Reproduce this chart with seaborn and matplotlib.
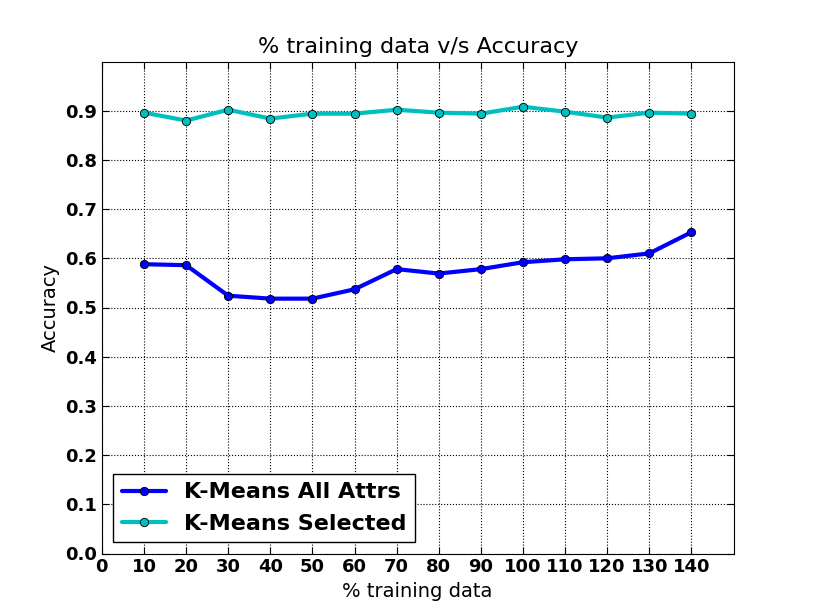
import matplotlib
matplotlib.use("Agg")
import pandas as pd
import seaborn as sns
import matplotlib.pyplot as plt

# ==============================
# Data
# ==============================
train_pct = [10, 20, 30, 40, 50, 60, 70, 80, 90, 100, 110, 120, 130, 140]
acc_all = [0.588, 0.586, 0.524, 0.518, 0.518, 0.537, 0.578, 0.569, 0.578,
           0.592, 0.598, 0.600, 0.610, 0.653]
acc_selected = [0.896, 0.880, 0.902, 0.884, 0.894, 0.894, 0.902, 0.896, 0.894,
                0.908, 0.898, 0.886, 0.896, 0.894]

df = pd.DataFrame({"pct": train_pct, "all": acc_all, "sel": acc_selected})

sns.set_style("ticks")
plt.rcParams["font.family"] = ["DejaVu Sans"]
plt.rcParams["text.color"] = "black"
plt.rcParams["axes.labelcolor"] = "black"
plt.rcParams["xtick.color"] = "black"
plt.rcParams["ytick.color"] = "black"

fig, ax = plt.subplots(figsize=(8.15, 6.15), dpi=100)
fig.subplots_adjust(left=0.125, right=0.9, top=0.9, bottom=0.1)

sns.lineplot(data=df, x="pct", y="all", ax=ax, color="#0000ff", linewidth=3,
             marker="o", markersize=6, markeredgecolor="black",
             markeredgewidth=0.6, label="K-Means All Attrs")
sns.lineplot(data=df, x="pct", y="sel", ax=ax, color="#00bfbf", linewidth=3,
             marker="o", markersize=6, markeredgecolor="black",
             markeredgewidth=0.6, label="K-Means Selected")

ax.set_xlim(0, 150)
ax.set_ylim(0, 1.0)
ax.set_xticks(range(0, 150, 10))
ax.set_yticks([i / 10 for i in range(10)])
ax.set_yticklabels([f"{i / 10:.1f}" for i in range(10)])
ax.tick_params(direction="in", top=True, right=True, length=5)
for lbl in ax.get_xticklabels() + ax.get_yticklabels():
    lbl.set_fontweight("bold")
    lbl.set_fontsize(13)
ax.grid(True, linestyle=":", color="black", linewidth=0.8)
for s in ax.spines.values():
    s.set_color("black")

ax.set_title("% training data v/s Accuracy", fontsize=16, color="black")
ax.set_xlabel("% training data", fontsize=14)
ax.set_ylabel("Accuracy", fontsize=14)
leg = ax.legend(loc="lower left", prop={"weight": "bold", "size": 16},
                fancybox=False, edgecolor="black", framealpha=1)
leg.get_frame().set_linewidth(1)

plt.savefig("out.png")
